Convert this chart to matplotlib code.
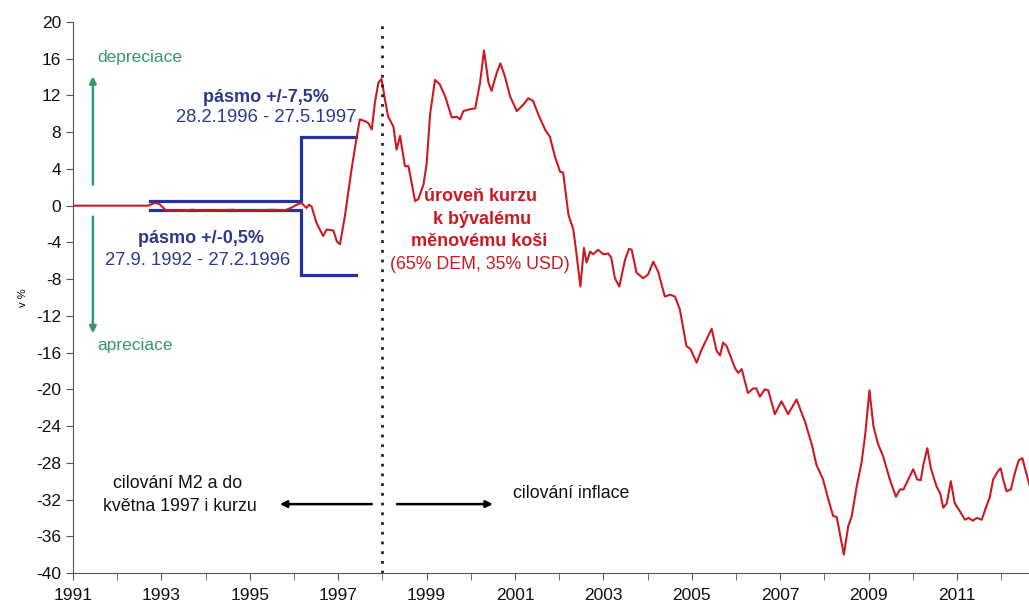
import matplotlib.pyplot as plt
import numpy as np
from matplotlib.ticker import MultipleLocator, FixedLocator

plt.rcParams['font.family'] = ['Liberation Sans', 'DejaVu Sans']
plt.rcParams['axes.unicode_minus'] = False

# ── Data ─────────────────────────────────────────────────────
# uroven kurzu k byvalemu menovemu kosi (v %), cas v desetinnych letech
kurz_t = [1991.00, 1992.70, 1992.85, 1992.95, 1993.10, 1993.40, 1993.70, 1994.00,
          1994.30, 1994.60, 1994.90, 1995.20, 1995.50, 1995.80, 1995.95, 1996.06,
          1996.17, 1996.28, 1996.34, 1996.40, 1996.51, 1996.66, 1996.74, 1996.89,
          1996.97, 1997.04, 1997.15, 1997.30, 1997.42, 1997.49, 1997.61, 1997.68,
          1997.76, 1997.83, 1997.91, 1997.98, 1998.06, 1998.13, 1998.25, 1998.32,
          1998.40, 1998.51, 1998.59, 1998.74, 1998.81, 1998.93, 1999.00, 1999.08,
          1999.19, 1999.30, 1999.42, 1999.57, 1999.68, 1999.76, 1999.83, 1999.98,
          2000.10, 2000.21, 2000.30, 2000.40, 2000.47, 2000.59, 2000.67, 2000.77,
          2000.89, 2001.04, 2001.19, 2001.30, 2001.41, 2001.53, 2001.68, 2001.79,
          2001.90, 2002.02, 2002.09, 2002.21, 2002.32, 2002.39, 2002.48, 2002.56,
          2002.62, 2002.70, 2002.77, 2002.88, 2003.00, 2003.11, 2003.18, 2003.26,
          2003.36, 2003.49, 2003.58, 2003.64, 2003.75, 2003.90, 2004.01, 2004.13,
          2004.24, 2004.39, 2004.51, 2004.62, 2004.73, 2004.88, 2004.97, 2005.11,
          2005.22, 2005.45, 2005.56, 2005.64, 2005.71, 2005.79, 2005.98, 2006.05,
          2006.13, 2006.27, 2006.39, 2006.46, 2006.54, 2006.65, 2006.73, 2006.88,
          2007.03, 2007.18, 2007.37, 2007.56, 2007.71, 2007.82, 2007.97, 2008.09,
          2008.20, 2008.28, 2008.35, 2008.44, 2008.54, 2008.62, 2008.73, 2008.84,
          2008.92, 2009.02, 2009.11, 2009.21, 2009.33, 2009.48, 2009.62, 2009.71,
          2009.79, 2009.90, 2010.01, 2010.10, 2010.18, 2010.24, 2010.33, 2010.41,
          2010.54, 2010.62, 2010.69, 2010.77, 2010.86, 2010.95, 2011.07, 2011.18,
          2011.26, 2011.36, 2011.45, 2011.56, 2011.66, 2011.74, 2011.82, 2011.93,
          2011.99, 2012.04, 2012.12, 2012.22, 2012.31, 2012.40, 2012.48, 2012.55,
          2012.65, 2012.70]
kurz_v = [0.0, 0.0, 0.3, 0.2, -0.5, -0.55, -0.45, -0.55,
          -0.5, -0.45, -0.55, -0.5, -0.45, -0.5, -0.2, 0.1,
          0.3, -0.25, 0.1, -0.1, -1.9, -3.3, -2.6, -2.7,
          -3.9, -4.2, -1.2, 3.9, 7.5, 9.4, 9.2, 9.0,
          8.3, 11.2, 13.4, 13.8, 11.5, 9.7, 8.6, 6.1,
          7.6, 4.3, 4.3, 0.5, 0.7, 2.3, 4.5, 10.0,
          13.7, 13.2, 11.9, 9.6, 9.7, 9.4, 10.3, 10.5,
          10.6, 13.4, 16.9, 13.4, 12.5, 14.5, 15.5, 14.1,
          11.9, 10.3, 11.0, 11.7, 11.4, 9.9, 8.3, 7.5,
          5.4, 3.7, 3.6, -1.0, -2.6, -5.2, -8.8, -4.6,
          -6.2, -5.0, -5.3, -4.8, -5.3, -5.2, -5.7, -7.9,
          -8.8, -5.9, -4.7, -4.8, -7.3, -7.9, -7.5, -6.1,
          -7.2, -9.9, -9.7, -9.9, -11.3, -15.3, -15.6, -17.1,
          -15.7, -13.4, -15.8, -16.3, -14.9, -15.3, -17.7, -18.2,
          -17.8, -20.4, -19.9, -19.9, -20.8, -20.0, -20.1, -22.7,
          -21.3, -22.7, -21.1, -23.5, -25.9, -28.2, -29.8, -32.0,
          -33.8, -33.9, -35.7, -38.0, -34.9, -33.8, -30.6, -28.0,
          -25.1, -20.1, -24.0, -25.9, -27.3, -29.8, -31.7, -30.9,
          -30.9, -29.8, -28.7, -29.8, -29.9, -28.2, -26.4, -28.6,
          -30.6, -31.3, -32.9, -32.4, -30.0, -32.4, -33.3, -34.2,
          -34.0, -34.3, -34.0, -34.2, -32.8, -31.8, -29.8, -28.9,
          -28.6, -29.7, -31.1, -30.9, -29.1, -27.7, -27.5, -28.8,
          -30.6, -31.0]

# fluktuacni pasmo: 27.9.1992 - 27.2.1996 +/-0,5 %, 28.2.1996 - 27.5.1997 +/-7,5 %
pasmo_t = [1992.74, 1996.16, 1996.16, 1997.40]
pasmo_v = [0.5, 0.5, 7.5, 7.5]

rezim_zmena = 1998.0      # prechod na cilovani inflace
roky_popis = list(range(1991, 2013, 2))

# ── Barvy ────────────────────────────────────────────────────
CERVENA = '#cc1a22'
MODRA   = '#26339a'
MODRA_T = '#2c3a8c'
ZELENA  = '#34986a'

fig = plt.figure(figsize=(10.29, 6.06), dpi=100)
ax = fig.add_axes([73/1029, 33/606, 1 - 73/1029, 551/606])

ax.plot(pasmo_t, pasmo_v, color=MODRA, lw=2.3, solid_joinstyle='miter')
ax.plot(pasmo_t, [-v for v in pasmo_v], color=MODRA, lw=2.3, solid_joinstyle='miter')
ax.plot(kurz_t, kurz_v, color=CERVENA, lw=1.5)
ax.axvline(rezim_zmena, color='#222222', ls=(0, (1, 2.5)), lw=2)

ax.set_xlim(1991, 2012.63)
ax.set_ylim(-40, 20)
ax.xaxis.set_major_locator(FixedLocator(roky_popis))
ax.xaxis.set_minor_locator(MultipleLocator(1))
ax.yaxis.set_major_locator(MultipleLocator(4))
ax.tick_params(axis='both', which='both', direction='out', length=5,
               color='#555555', labelsize=12.5, labelcolor='#111111')
ax.tick_params(axis='x', pad=6)
for s in ['top', 'right']:
    ax.spines[s].set_visible(False)
for s in ['left', 'bottom']:
    ax.spines[s].set_color('#555555')
ax.set_ylabel('v %', fontsize=8, labelpad=6)

# ── Popisky ──────────────────────────────────────────────────
ax.annotate('', xy=(1991.45, 14.1), xytext=(1991.45, 2.3),
            arrowprops=dict(arrowstyle='-|>', color=ZELENA, lw=1.8,
                            mutation_scale=10, shrinkA=0, shrinkB=0))
ax.annotate('', xy=(1991.45, -13.9), xytext=(1991.45, -1.2),
            arrowprops=dict(arrowstyle='-|>', color=ZELENA, lw=1.8,
                            mutation_scale=10, shrinkA=0, shrinkB=0))
ax.text(1991.54, 16.1, 'depreciace', color=ZELENA, fontsize=12.5, va='center')
ax.text(1991.54, -15.25, 'apreciace', color=ZELENA, fontsize=12.5, va='center')

ax.text(1995.36, 11.76, 'pásmo +/-7,5%', color=MODRA_T, fontsize=13,
        fontweight='bold', ha='center', va='center')
ax.text(1995.37, 9.6, '28.2.1996 - 27.5.1997', color=MODRA_T, fontsize=13.3,
        ha='center', va='center')
ax.text(1993.90, -3.6, 'pásmo +/-0,5%', color=MODRA_T, fontsize=13,
        fontweight='bold', ha='center', va='center')
ax.text(1993.83, -6.0, '27.9. 1992 - 27.2.1996', color=MODRA_T, fontsize=13.3,
        ha='center', va='center')

ax.text(2000.23, 1.0, 'úroveň kurzu', color=CERVENA, fontsize=13,
        fontweight='bold', ha='center', va='center')
ax.text(2000.26, -1.5, 'k bývalému', color=CERVENA, fontsize=13,
        fontweight='bold', ha='center', va='center')
ax.text(2000.19, -3.9, 'měnovému koši', color=CERVENA, fontsize=13,
        fontweight='bold', ha='center', va='center')
ax.text(2000.21, -6.4, '(65% DEM, 35% USD)', color=CERVENA, fontsize=12.8,
        ha='center', va='center')

ax.text(1993.36, -30.2, 'cilování M2 a do', color='#111111', fontsize=12.8,
        ha='center', va='center')
ax.text(1993.42, -32.8, 'května 1997 i kurzu', color='#111111', fontsize=12.8,
        ha='center', va='center')
ax.text(2000.95, -31.3, 'cilování inflace', color='#111111', fontsize=12.8,
        ha='left', va='center')
ax.annotate('', xy=(1995.68, -32.5), xytext=(1997.76, -32.5),
            arrowprops=dict(arrowstyle='-|>', color='black', lw=1.8,
                            mutation_scale=10, shrinkA=0, shrinkB=0))
ax.annotate('', xy=(2000.50, -32.5), xytext=(1998.33, -32.5),
            arrowprops=dict(arrowstyle='-|>', color='black', lw=1.8,
                            mutation_scale=10, shrinkA=0, shrinkB=0))

plt.savefig('out.png', dpi=100)
plt.close()
